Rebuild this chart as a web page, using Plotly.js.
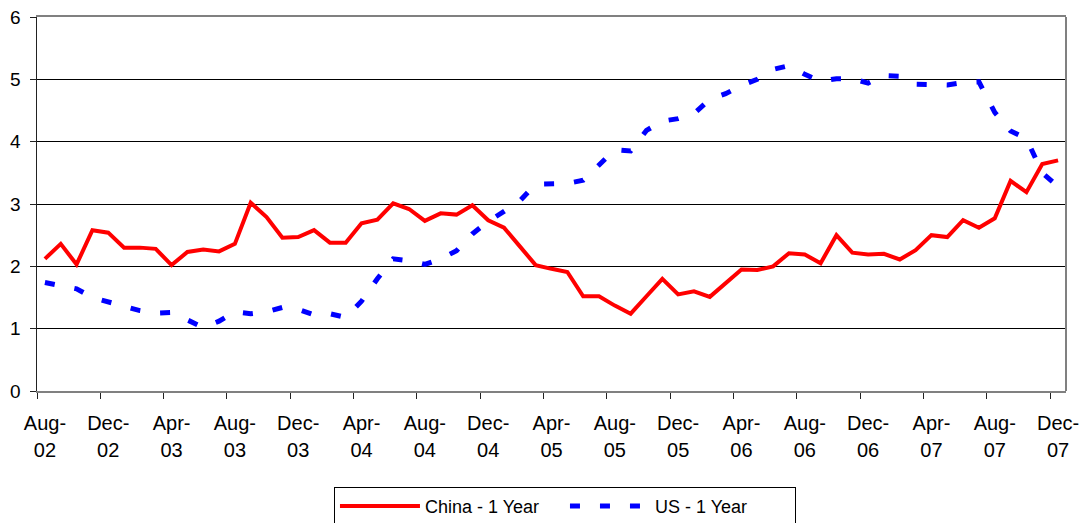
<!DOCTYPE html>
<html><head><meta charset="utf-8">
<script src="https://cdn.plot.ly/plotly-3.0.1.min.js"></script>
<style>html,body{margin:0;padding:0;background:#fff}#chart{width:1086px;height:523px}</style>
</head><body><div id="chart"></div>
<script>
const months = [
 "Aug-02","Sep-02","Oct-02","Nov-02","Dec-02",
 "Jan-03","Feb-03","Mar-03","Apr-03","May-03","Jun-03","Jul-03","Aug-03","Sep-03","Oct-03","Nov-03","Dec-03",
 "Jan-04","Feb-04","Mar-04","Apr-04","May-04","Jun-04","Jul-04","Aug-04","Sep-04","Oct-04","Nov-04","Dec-04",
 "Jan-05","Feb-05","Mar-05","Apr-05","May-05","Jun-05","Jul-05","Aug-05","Sep-05","Oct-05","Nov-05","Dec-05",
 "Jan-06","Feb-06","Mar-06","Apr-06","May-06","Jun-06","Jul-06","Aug-06","Sep-06","Oct-06","Nov-06","Dec-06",
 "Jan-07","Feb-07","Mar-07","Apr-07","May-07","Jun-07","Jul-07","Aug-07","Sep-07","Oct-07","Nov-07","Dec-07"];

const china1Y = [
 2.12,2.36,2.03,2.58,2.54,
 2.30,2.30,2.28,2.02,2.23,2.27,2.24,2.36,3.02,2.79,2.46,2.47,
 2.58,2.38,2.38,2.69,2.75,3.01,2.92,2.73,2.85,2.83,2.98,2.74,
 2.62,2.32,2.02,1.96,1.91,1.52,1.52,1.37,1.24,1.52,1.80,1.55,
 1.60,1.51,1.72,1.95,1.94,2.00,2.21,2.19,2.05,2.50,2.22,2.19,
 2.20,2.11,2.26,2.50,2.47,2.74,2.62,2.77,3.37,3.19,3.64,3.70];

const us1Y = [
 1.74,1.70,1.64,1.50,1.44,
 1.36,1.29,1.25,1.26,1.15,1.02,1.12,1.27,1.24,1.27,1.34,1.31,
 1.22,1.24,1.18,1.44,1.80,2.12,2.09,2.03,2.12,2.25,2.52,2.72,
 2.88,3.05,3.32,3.33,3.33,3.38,3.63,3.87,3.85,4.18,4.33,4.37,
 4.45,4.68,4.77,4.90,5.00,5.16,5.22,5.08,4.97,5.01,5.01,4.94,
 5.06,5.05,4.92,4.91,4.91,4.95,4.96,4.47,4.17,4.05,3.50,3.28];

const tickMonths = ["Aug-","Dec-","Apr-","Aug-","Dec-","Apr-","Aug-","Dec-","Apr-","Aug-","Dec-","Apr-","Aug-","Dec-","Apr-","Aug-","Dec-"];
const tickYears  = ["02","02","03","03","03","04","04","04","05","05","05","06","06","06","07","07","07"];

const idx = months.map((m, i) => i);
const tickIdx = tickMonths.map((m, k) => months.indexOf(m + tickYears[k]));
const FONT = 'Arial, "Liberation Sans", sans-serif';

const traces = [
  {x: idx, y: china1Y, name: 'China - 1 Year', type: 'scatter', mode: 'lines', xaxis: 'x', yaxis: 'y',
   line: {color: '#ff0000', width: 4}, hoverinfo: 'skip'},
  {x: idx, y: us1Y, name: 'US - 1 Year', type: 'scatter', mode: 'lines', xaxis: 'x2', yaxis: 'y',
   line: {color: '#0000ff', width: 5, dash: '10px,20px'}, hoverinfo: 'skip'}
];

const xr = [-0.5, months.length - 0.5];
const layout = {
  width: 1086, height: 523,
  margin: {l: 37, r: 20, t: 17, b: 132},
  paper_bgcolor: '#fff', plot_bgcolor: '#fff',
  font: {family: FONT, size: 18, color: '#000'},
  showlegend: true,
  xaxis: {
    range: xr, tickmode: 'array', tickvals: tickIdx, ticktext: tickMonths,
    ticks: '', showgrid: false, zeroline: false, automargin: false,
    showline: true, linecolor: '#808080', linewidth: 2, mirror: true,
    ticklabelstandoff: 13,
    tickfont: {family: FONT, size: 20, color: '#000'},
    minor: {tickmode: 'linear', tick0: -0.5, dtick: 4, ticks: 'outside', ticklen: 6,
            tickcolor: '#222', tickwidth: 1, showgrid: false}
  },
  xaxis2: {
    range: xr, overlaying: 'x', anchor: 'y', side: 'bottom', automargin: false,
    tickmode: 'array', tickvals: tickIdx, ticktext: tickYears,
    ticks: '', showgrid: false, zeroline: false, showline: false,
    ticklabelstandoff: 45,
    tickfont: {family: FONT, size: 20, color: '#000'}
  },
  yaxis: {
    range: [0, 6], tickmode: 'linear', tick0: 0, dtick: 1, automargin: false,
    ticks: 'outside', ticklen: 6, tickcolor: '#222', tickwidth: 1,
    showgrid: true, gridcolor: '#000', gridwidth: 1, zeroline: false,
    showline: true, linecolor: '#222', linewidth: 1.5,
    ticklabelstandoff: 5,
    tickfont: {family: FONT, size: 19, color: '#000'}
  },
  shapes: [
    {type: 'line', xref: 'paper', yref: 'paper', x0: 1, x1: 1, y0: 0, y1: 1,
     line: {color: '#808080', width: 2}, layer: 'above'}
  ],
  legend: {
    orientation: 'h', x: 0.2886, xanchor: 'left',
    yref: 'container', y: 0.069, yanchor: 'top',
    bordercolor: '#000', borderwidth: 1, bgcolor: '#fff',
    font: {family: FONT, size: 18, color: '#000'},
    itemwidth: 80, entrywidth: 135, traceorder: 'normal'
  }
};

Plotly.newPlot('chart', traces, layout, {displayModeBar: false, staticPlot: true});
</script>
</body></html>
